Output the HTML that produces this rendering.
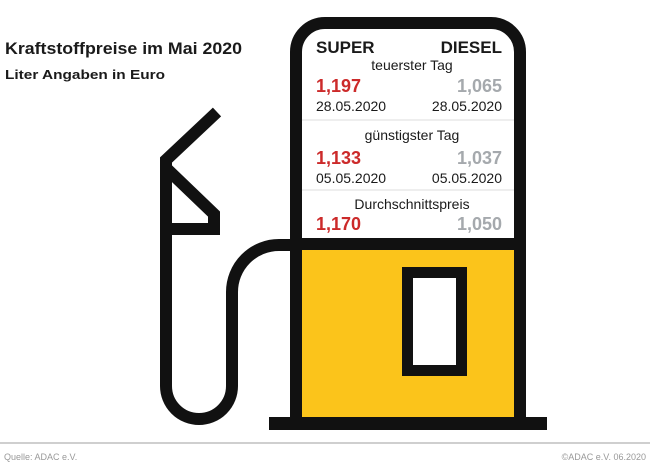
<!DOCTYPE html>
<html><head><meta charset="utf-8"><style>
html,body{margin:0;padding:0;background:#fff;}
svg{display:block;font-family:"Liberation Sans",sans-serif;}
</style></head><body>
<svg width="650" height="469" viewBox="0 0 650 469" xmlns="http://www.w3.org/2000/svg">
<rect width="650" height="469" fill="#fff"/>
<text x="5" y="54" font-size="17" font-weight="bold" fill="#1a1a1a" textLength="237" lengthAdjust="spacingAndGlyphs">Kraftstoffpreise im Mai 2020</text>
<text x="5" y="79" font-size="13" font-weight="bold" fill="#1a1a1a" textLength="160" lengthAdjust="spacingAndGlyphs">Liter Angaben in Euro</text>

<!-- pump body -->
<path d="M296 423 V52 A29 29 0 0 1 325 23 H491 A29 29 0 0 1 520 52 V423" fill="#fff" stroke="#111" stroke-width="12"/>
<rect x="302" y="250" width="212" height="167" fill="#fbc41b"/>
<rect x="302" y="238" width="212" height="12" fill="#111"/>
<rect x="269" y="417" width="278" height="13" fill="#111"/>
<rect x="407.5" y="272.5" width="54" height="98" fill="#fff" stroke="#111" stroke-width="11"/>
<line x1="302" y1="120" x2="514" y2="120" stroke="#ddd" stroke-width="1"/>
<line x1="302" y1="190" x2="514" y2="190" stroke="#ddd" stroke-width="1"/>

<!-- nozzle & hose -->
<g fill="none" stroke="#111" stroke-width="12" stroke-linejoin="miter">
<path d="M217 112 L166 160 V386 A33 33 0 0 0 232 386 V292 A47 47 0 0 1 279 245 H296"/>
<path d="M166 168 L214 214 V229 H166"/>
</g>

<!-- texts -->
<g font-size="17" font-weight="bold" fill="#1a1a1a">
<text x="316" y="53">SUPER</text>
<text x="502" y="53" text-anchor="end">DIESEL</text>
</g>
<g font-size="14" fill="#1a1a1a" text-anchor="middle">
<text x="412" y="70">teuerster Tag</text>
<text x="412" y="140">günstigster Tag</text>
<text x="412" y="209">Durchschnittspreis</text>
</g>
<g font-size="18" font-weight="bold">
<text x="316" y="92" fill="#cc2a2a">1,197</text>
<text x="502" y="92" fill="#a5a9ad" text-anchor="end">1,065</text>
<text x="316" y="164" fill="#cc2a2a">1,133</text>
<text x="502" y="164" fill="#a5a9ad" text-anchor="end">1,037</text>
<text x="316" y="230" fill="#cc2a2a">1,170</text>
<text x="502" y="230" fill="#a5a9ad" text-anchor="end">1,050</text>
</g>
<g font-size="14" fill="#1a1a1a">
<text x="316" y="111">28.05.2020</text>
<text x="502" y="111" text-anchor="end">28.05.2020</text>
<text x="316" y="183">05.05.2020</text>
<text x="502" y="183" text-anchor="end">05.05.2020</text>
</g>

<rect x="0" y="442" width="650" height="2" fill="#cfcfcf"/>
<text x="4" y="460" font-size="9" fill="#999">Quelle: ADAC e.V.</text>
<text x="646" y="460" font-size="9" fill="#999" text-anchor="end">©ADAC e.V.  06.2020</text>
</svg>
</body></html>
